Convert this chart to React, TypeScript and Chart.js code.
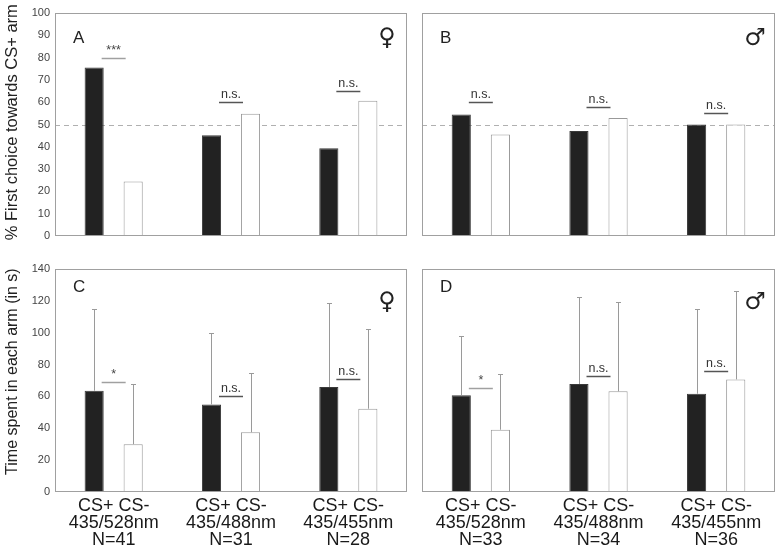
import React, { useEffect, useRef } from "react";
import { Chart, registerables } from "chart.js";

Chart.register(...registerables);

const FONT = "'Liberation Sans', Arial, Helvetica, sans-serif";
const SYMBOL_FONT = "'DejaVu Sans', sans-serif";

// ---------- data ----------
const wavelengths = ["435/528nm", "435/488nm", "435/455nm"];
const pairLabel = "CS+ CS-";
const nFemale = [41, 31, 28];
const nMale = [33, 34, 36];

// % first choice (A: female, B: male)
const firstChoiceFemalePlus = [75.6, 45.2, 39.3];
const firstChoiceFemaleMinus = [24.4, 54.8, 60.7];
const firstChoiceMalePlus = [54.5, 47.1, 50];
const firstChoiceMaleMinus = [45.5, 52.9, 50];

// time spent (C: female, D: male), mean and upper SD
const timeFemalePlus = [63.6, 55.0, 65.9];
const timeFemalePlusSd = [51.3, 44.6, 52.5];
const timeFemaleMinus = [30.0, 37.5, 52.3];
const timeFemaleMinusSd = [37.6, 37.0, 49.8];
const timeMalePlus = [60.7, 67.8, 61.7];
const timeMalePlusSd = [37.4, 54.4, 53.0];
const timeMaleMinus = [39.1, 63.2, 70.7];
const timeMaleMinusSd = [34.8, 55.9, 55.3];

// significance markers
const sigA = ["***", "n.s.", "n.s."];
const sigAY = [80, 60, 65];
const sigB = ["n.s.", "n.s.", "n.s."];
const sigBY = [60, 58, 55];
const sigC = ["*", "n.s.", "n.s."];
const sigCY = [69, 60, 71];
const sigD = ["*", "n.s.", "n.s."];
const sigDY = [65, 73, 76];

const firstChoiceTicks = { max: 100, step: 10 };
const timeTicks = { max: 140, step: 20 };
const chanceLevel = 50;

const makeLabels = (ns: number[]) => wavelengths.map((w, i) => [pairLabel, w, "N=" + ns[i]]);

type Panel = {
  key: string;
  letter: string;
  symbol: string;
  labels: string[][];
  plus: number[];
  minus: number[];
  plusSd?: number[];
  minusSd?: number[];
  sigText: string[];
  sigY: number[];
  max: number;
  step: number;
  showY: boolean;
  showX: boolean;
  title: string;
  titleSize: number;
  dashed?: number;
  box: { left: number; top: number; width: number; height: number };
  padding: { left: number; right: number; top: number; bottom: number };
  letterDY: number;
  symbolDY: number;
};

const panels: Panel[] = [
  {
    key: "A", letter: "A", symbol: "\u2640", labels: makeLabels(nFemale),
    plus: firstChoiceFemalePlus, minus: firstChoiceFemaleMinus,
    sigText: sigA, sigY: sigAY, max: firstChoiceTicks.max, step: firstChoiceTicks.step,
    showY: true, showX: false, title: " % First choice towards CS+ arm", titleSize: 16.5, dashed: chanceLevel,
    box: { left: 0, top: 0, width: 410, height: 245 },
    padding: { left: 0, right: 3, top: 13, bottom: 9 }, letterDY: 30, symbolDY: 26,
  },
  {
    key: "B", letter: "B", symbol: "\u2642", labels: makeLabels(nMale),
    plus: firstChoiceMalePlus, minus: firstChoiceMaleMinus,
    sigText: sigB, sigY: sigBY, max: firstChoiceTicks.max, step: firstChoiceTicks.step,
    showY: false, showX: false, title: "", titleSize: 16, dashed: chanceLevel,
    box: { left: 410, top: 0, width: 367, height: 245 },
    padding: { left: 12, right: 2, top: 13, bottom: 9 }, letterDY: 30, symbolDY: 26,
  },
  {
    key: "C", letter: "C", symbol: "\u2640", labels: makeLabels(nFemale),
    plus: timeFemalePlus, minus: timeFemaleMinus, plusSd: timeFemalePlusSd, minusSd: timeFemaleMinusSd,
    sigText: sigC, sigY: sigCY, max: timeTicks.max, step: timeTicks.step,
    showY: true, showX: true, title: "    Time spent in each arm (in s)", titleSize: 16,
    box: { left: 0, top: 245, width: 410, height: 302 },
    padding: { left: 0, right: 3, top: 24, bottom: 0 }, letterDY: 23, symbolDY: 34,
  },
  {
    key: "D", letter: "D", symbol: "\u2642", labels: makeLabels(nMale),
    plus: timeMalePlus, minus: timeMaleMinus, plusSd: timeMalePlusSd, minusSd: timeMaleMinusSd,
    sigText: sigD, sigY: sigDY, max: timeTicks.max, step: timeTicks.step,
    showY: false, showX: true, title: "", titleSize: 16,
    box: { left: 410, top: 245, width: 367, height: 302 },
    padding: { left: 12, right: 2, top: 24, bottom: 0 }, letterDY: 23, symbolDY: 34,
  },
];

function decorPlugin(p: Panel) {
  return {
    id: "decor" + p.key,
    beforeDatasetsDraw(chart: any) {
      if (p.dashed == null) return;
      const ctx = chart.ctx;
      const { left, right } = chart.chartArea;
      const y = Math.round(chart.scales.y.getPixelForValue(p.dashed)) + 0.5;
      ctx.save();
      ctx.strokeStyle = "#b0b0b0";
      ctx.lineWidth = 1;
      ctx.setLineDash([5, 4]);
      ctx.beginPath();
      ctx.moveTo(left, y);
      ctx.lineTo(right, y);
      ctx.stroke();
      ctx.restore();
    },
    afterDatasetsDraw(chart: any) {
      const ctx = chart.ctx;
      const { left, right, top, bottom } = chart.chartArea;
      const xs = chart.scales.x;
      const ys = chart.scales.y;
      ctx.save();

      // error bars
      const sds = [p.plusSd, p.minusSd];
      const vals = [p.plus, p.minus];
      sds.forEach((sd, d) => {
        if (!sd) return;
        const meta = chart.getDatasetMeta(d);
        meta.data.forEach((el: any, i: number) => {
          const x = Math.round(el.x) + 0.5;
          const yTop = Math.round(ys.getPixelForValue(vals[d][i] + sd[i])) + 0.5;
          ctx.strokeStyle = "#9a9a9a";
          ctx.lineWidth = 1;
          ctx.beginPath();
          ctx.moveTo(x, el.y);
          ctx.lineTo(x, yTop);
          ctx.moveTo(x - 2.5, yTop);
          ctx.lineTo(x + 2.5, yTop);
          ctx.stroke();
        });
      });

      // frame
      ctx.strokeStyle = "#a0a0a0";
      ctx.lineWidth = 1;
      ctx.strokeRect(left + 0.5, top + 0.5, right - left - 1, bottom - top - 1);

      // significance
      p.sigText.forEach((t, i) => {
        const xc = xs.getPixelForValue(i);
        const y = Math.round(ys.getPixelForValue(p.sigY[i])) + 0.5;
        const ns = t === "n.s.";
        ctx.strokeStyle = ns ? "#555" : "#a0a0a0";
        ctx.lineWidth = 1.5;
        ctx.beginPath();
        ctx.moveTo(xc - 12, y);
        ctx.lineTo(xc + 12, y);
        ctx.stroke();
        ctx.fillStyle = ns ? "#333" : "#444";
        ctx.font = "12.5px " + FONT;
        ctx.textAlign = "center";
        ctx.textBaseline = "alphabetic";
        ctx.fillText(t, xc, y - 5);
      });

      // panel letter
      ctx.fillStyle = "#222";
      ctx.font = "17px " + FONT;
      ctx.textAlign = "left";
      ctx.textBaseline = "alphabetic";
      ctx.fillText(p.letter, left + 18, top + p.letterDY);

      // sex symbol
      ctx.font = "24px " + SYMBOL_FONT;
      ctx.textAlign = "center";
      ctx.textBaseline = "middle";
      ctx.fillText(p.symbol, right - 20, top + p.symbolDY);

      ctx.restore();
    },
  };
}

function makeConfig(p: Panel): any {
  const barCommon = { categoryPercentage: 0.665, barPercentage: 0.49, borderWidth: 1 };
  return {
    type: "bar",
    data: {
      labels: p.labels,
      datasets: [
        { label: "CS+", data: p.plus, backgroundColor: "#222222", borderColor: "#3a3a3a", ...barCommon },
        { label: "CS-", data: p.minus, backgroundColor: "#ffffff", borderColor: "#999999", ...barCommon },
      ],
    },
    options: {
      responsive: false,
      animation: false,
      events: [],
      layout: { padding: p.padding },
      plugins: { legend: { display: false }, tooltip: { enabled: false } },
      scales: {
        x: {
          display: p.showX,
          grid: { display: false, drawTicks: false },
          border: { display: false },
          ticks: {
            autoSkip: false,
            maxRotation: 0,
            minRotation: 0,
            padding: 5,
            color: "#1a1a1a",
            font: { family: FONT, size: 18, lineHeight: 0.95 },
          },
          afterFit: (s: any) => {
            if (p.showX) s.height = 55;
            s.paddingLeft = 0;
            s.paddingRight = 0;
          },
        },
        y: {
          display: p.showY,
          min: 0,
          max: p.max,
          grid: { display: false, drawTicks: false },
          border: { display: false },
          ticks: {
            stepSize: p.step,
            padding: 5,
            color: "#444",
            font: { family: FONT, size: 11 },
          },
          title: {
            display: !!p.title,
            text: p.title,
            color: "#222",
            font: { family: FONT, size: p.titleSize },
            padding: { top: 3, bottom: 0 },
          },
          afterFit: (s: any) => {
            if (p.showY) s.width = 55;
            s.paddingTop = 0;
            s.paddingBottom = 0;
          },
        },
      },
    },
    plugins: [decorPlugin(p)],
  };
}

function PanelChart({ p }: { p: Panel }) {
  const ref = useRef<HTMLCanvasElement | null>(null);
  useEffect(() => {
    if (!ref.current) return;
    const chart = new Chart(ref.current, makeConfig(p));
    return () => chart.destroy();
  }, [p]);
  return (
    <canvas
      ref={ref}
      width={p.box.width}
      height={p.box.height}
      style={{
        position: "absolute",
        left: p.box.left,
        top: p.box.top,
        width: p.box.width,
        height: p.box.height,
      }}
    />
  );
}

export default function App() {
  return (
    <div style={{ position: "absolute", left: 0, top: 0, width: 777, height: 547, background: "#fff" }}>
      {panels.map((p) => (
        <PanelChart key={p.key} p={p} />
      ))}
    </div>
  );
}
